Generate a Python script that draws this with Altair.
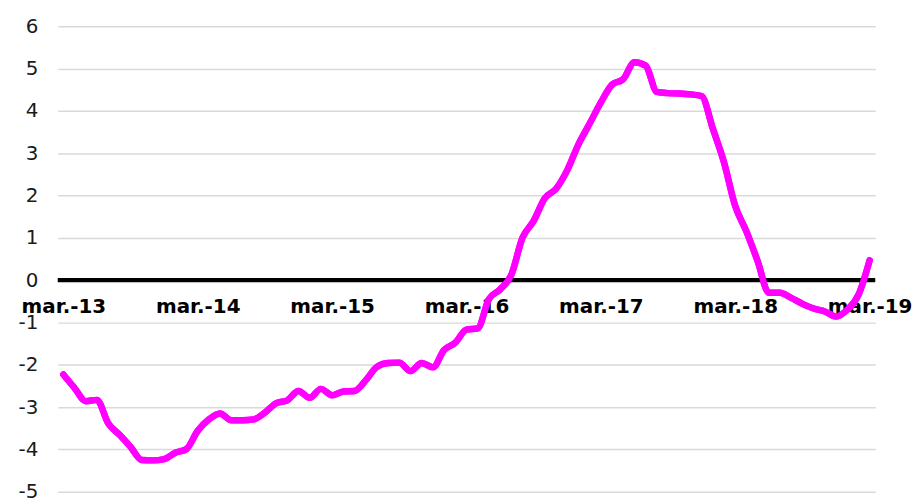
import altair as alt
import pandas as pd

month_abbr = ["mar.", "abr.", "may.", "jun.", "jul.", "ago.", "sep.", "oct.", "nov.", "dic.", "ene.", "feb."]
years = ["13", "14", "15", "16", "17", "18", "19"]

# monthly categories mar.-13 ... mar.-19
months = []
for yi in range(6):
    for mi, m in enumerate(month_abbr):
        yr = years[yi] if mi < 10 else years[yi + 1]
        months.append(f"{m}-{yr}")
months.append("mar.-19")

tick_labels = ["mar.-13", "mar.-14", "mar.-15", "mar.-16", "mar.-17", "mar.-18", "mar.-19"]

values = [
    -2.23, -2.55, -2.86, -2.83, -3.38, -3.65, -3.94, -4.25, -4.26, -4.23, -4.08, -3.99,
    -3.56, -3.29, -3.15, -3.31, -3.31, -3.29, -3.13, -2.91, -2.84, -2.62, -2.78, -2.57,
    -2.72, -2.63, -2.62, -2.37, -2.05, -1.96, -1.95, -2.15, -1.96, -2.06, -1.65, -1.48,
    -1.17, -1.14, -0.45, -0.22, 0.12, 1.00, 1.40, 1.94, 2.16, 2.60, 3.21, 3.70,
    4.20, 4.62, 4.75, 5.15, 5.07, 4.45, 4.42, 4.41, 4.39, 4.35, 3.58, 2.78,
    1.75, 1.15, 0.45, -0.30, -0.30, -0.42, -0.56, -0.67, -0.74, -0.86, -0.70, -0.35,
    0.47,
]

y_ticks = [-5, -4, -3, -2, -1, 0, 1, 2, 3, 4, 5, 6]

df = pd.DataFrame({"month": months, "value": values})
zero = pd.DataFrame({"y": [0]})

W, H = 822, 468
zero_offset = -H * 5 / 11

x_enc = alt.X(
    "month:O",
    sort=months,
    scale=alt.Scale(type="point", padding=0.5),
    axis=alt.Axis(
        values=tick_labels, title=None, orient="bottom", offset=zero_offset,
        domain=False, ticks=False, grid=False, labelAngle=0,
        labelFont="DejaVu Sans", labelFontSize=20, labelFontWeight="bold",
        labelColor="black", labelPadding=17, labelOverlap=False,
        labelBaseline="top",
    ),
)
y_enc = alt.Y(
    "value:Q",
    scale=alt.Scale(domain=[-5, 6], nice=False, zero=False),
    axis=alt.Axis(
        values=y_ticks, title=None, domain=False, ticks=False, grid=True,
        gridColor="#d9d9d9", gridWidth=1.5, labelFont="DejaVu Sans",
        labelFontSize=20, labelColor="#1a1a1a", labelPadding=20,
        labelExpr="replace(datum.label, '\u2212', '-')",
    ),
)

rule = alt.Chart(zero).mark_rule(color="black", strokeWidth=4.5).encode(
    y=alt.Y("y:Q", scale=alt.Scale(domain=[-5, 6], nice=False))
)
line = alt.Chart(df).mark_line(
    color="#FF00FF", strokeWidth=6.5, interpolate="monotone", strokeCap="round", strokeJoin="round"
).encode(x=x_enc, y=y_enc)

chart = alt.layer(line, rule, line).properties(
    width=W, height=H,
    autosize=alt.AutoSizeParams(type="none"),
    padding={"left": 50, "top": 17, "right": 40, "bottom": 9},
).configure_view(stroke=None)

chart.save("out.html", embed_options={"renderer": "svg", "actions": False})
